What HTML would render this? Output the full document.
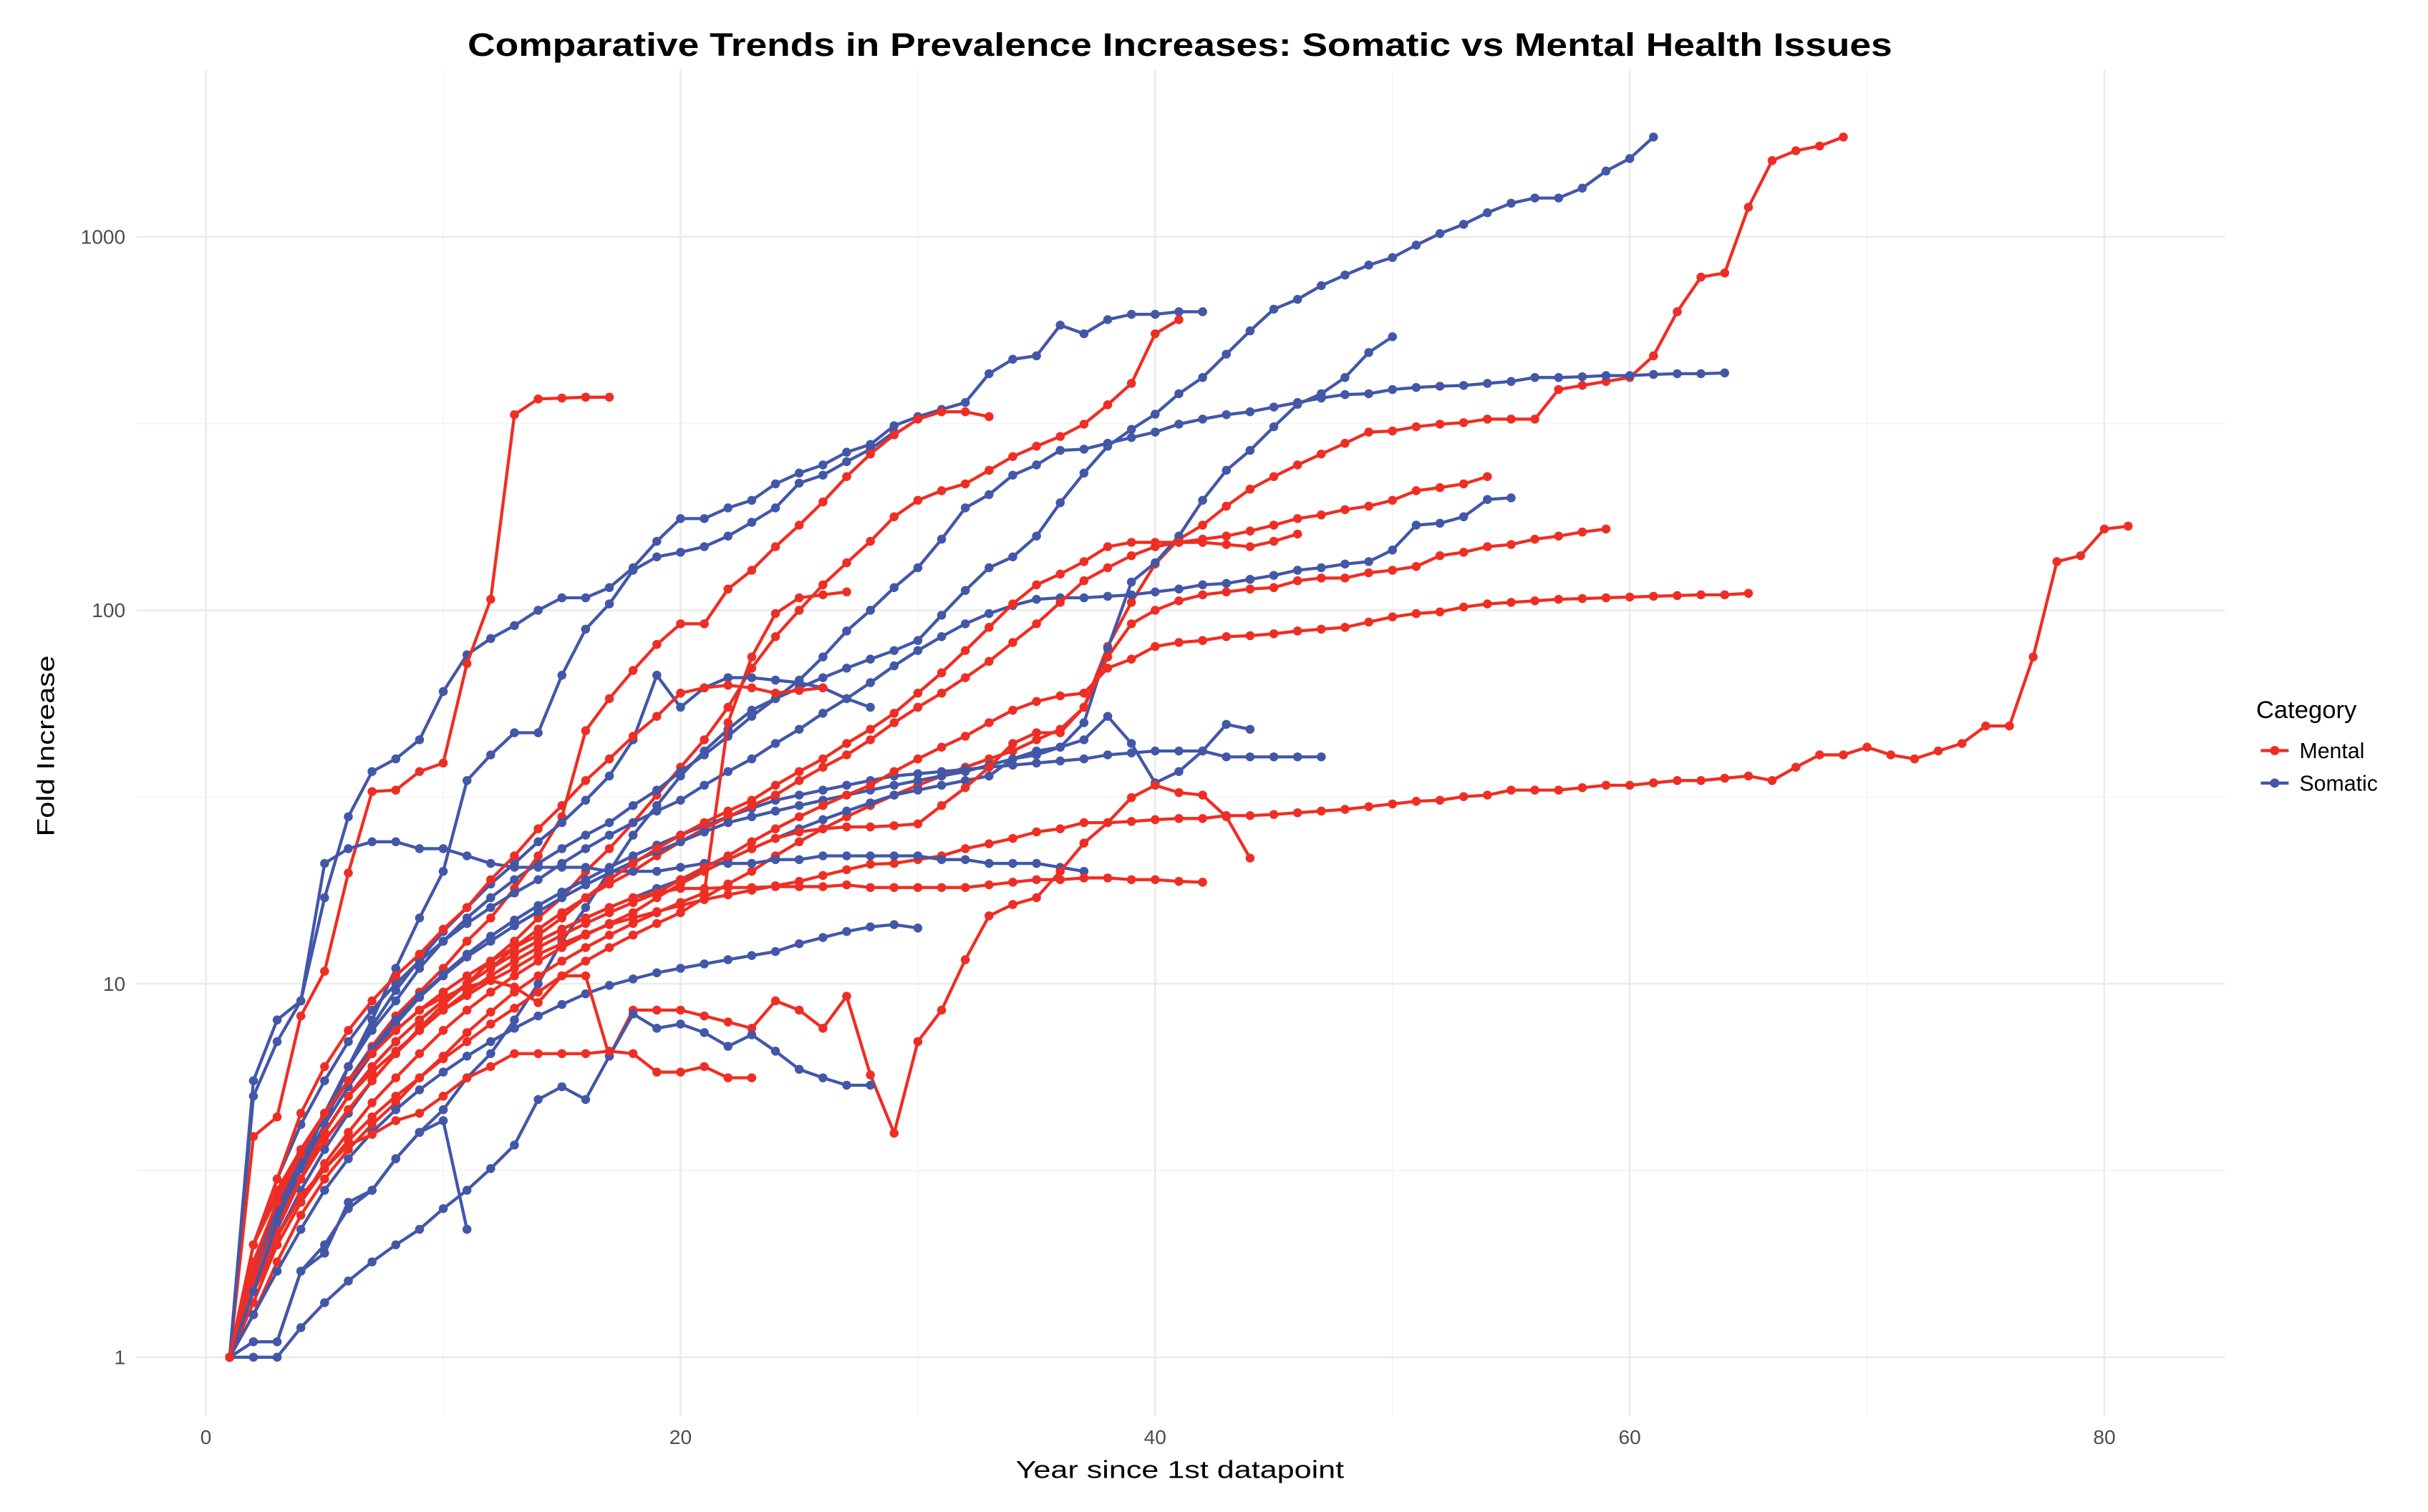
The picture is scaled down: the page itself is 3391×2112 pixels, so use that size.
<!DOCTYPE html>
<html><head><meta charset="utf-8"><title>Comparative Trends in Prevalence Increases</title>
<style>html,body{margin:0;padding:0;background:#fff}svg{display:block}</style></head>
<body>
<svg id="chart" width="3391" height="2112" viewBox="0 0 1568 977" preserveAspectRatio="none" xmlns="http://www.w3.org/2000/svg" font-family="Liberation Sans, Arial, sans-serif">
<rect x="0" y="0" width="1568" height="977" fill="#ffffff"/>
<g id="grid"></g>
<g id="series"></g>
<g id="axes"></g>
<text x="762" y="36" text-anchor="middle" font-size="21" font-weight="bold" fill="#000" textLength="920" lengthAdjust="spacingAndGlyphs">Comparative Trends in Prevalence Increases: Somatic vs Mental Health Issues</text>
<text x="762" y="955" text-anchor="middle" font-size="16" fill="#000" textLength="212" lengthAdjust="spacingAndGlyphs">Year since 1st datapoint</text>
<text transform="translate(35,482) rotate(-90)" text-anchor="middle" font-size="16" fill="#000" textLength="117" lengthAdjust="spacingAndGlyphs">Fold Increase</text>
<g>
<text x="1457" y="464" font-size="16" fill="#000">Category</text>
<g>
<line x1="1460" y1="485" x2="1478" y2="485" stroke="#EE2E24" stroke-width="2"/><circle cx="1469" cy="485" r="3" fill="#EE2E24"/>
<text x="1485" y="490" font-size="14" fill="#000">Mental</text></g>
<g>
<line x1="1460" y1="506" x2="1478" y2="506" stroke="#4257A8" stroke-width="2"/><circle cx="1469" cy="506" r="3" fill="#4257A8"/>
<text x="1485" y="511" font-size="14" fill="#000">Somatic</text></g>
</g>
</svg>
<script>
// ---- data (each series starts at year 1) ----
const mental1 = [1,3.9,4.4,8.2,10.8,19.8,32.7,33,37,39,72,107,334,368,370,372,372];
const mental2 = [1,1.4,2,2.6,3.2,3.8,4.4,5,5.6,6.3,7,7.8,8.6,9.5,10.5,11.5,12.5,13.5,14.5,15.5,17,18.5,20,22,24,26,28,30,32,34,36,38,40,42,45,48,55,80,105,133,155,169,190,211,228,245,262,280,300,302,310,315,318,325,325,325,390,400,410,420,480,630,780,800,1200,1600,1700,1750,1850];
const mental3 = [1,1.6,2.3,3,3.8,4.6,5.5,6.5,7.6,8.8,10,11.5,13,15,17,20,23,27,32,38,45,55,70,85,100,117,134,153,178,197,209,218,237,258,275,292,315,355,405,550,600];
const mental4 = [1,2,2.8,3.6,4.5,5.5,6.8,8.2,9.5,11,13,15,18,22,28,47.6,58,69,81,92,92,114,128,148,169,195,228,262,295,325,340,340,330];
const mental5 = [1,1.3,1.8,2.4,3,3.6,4.2,4.8,5.6,6.4,7.4,8.4,9.5,10.5,11.5,12.5,13.5,14.5,15.5,16.5,17.5,50,75,98,108,110,112];
const mental6 = [1,1.7,2.4,3.2,4,5,6,7,8,9,10,11,12.5,14,15.5,17,18.5,20,22,24,26,28,30,32,35,38,41,45,50,55,60,66,73,82,92,105,120,130,140,148,152,155,158,163,169,176,180,186,190,197,209,213,218,228];
const mental7 = [1,1.5,2,2.6,3.3,4,4.8,5.6,6.5,7.5,8.5,9.5,10.5,11.5,12.5,13.5,14.5,15.5,17,18.5,20,21.5,23,24.5,25.5,26,26.3,26.3,26.5,26.8,30,33.5,38,44,47,47,55,75,92,100,106,110,112,114,115,120,122,122,126,128,131,140,143,148,150,155,158,162,165];
const mental8 = [1,1.6,2.3,3,3.8,4.6,5.5,6.5,7.5,8.5,9.5,10.5,11.5,12.5,13.5,14.5,15.5,16.5,17.5,19,20.5,22,24,26,28,30,32,34,37,40,43,46,50,54,57,59,60,70,74,80,82,83,85,85.5,86.5,88,89,90,93,96,98,99,102,104,105,106,107,107.5,108,108.5,109,109.5,110,110,111];
const mental9 = [1,1.8,2.5,3.2,4,5,5.8,6.6,7.5,8.5,9.3,10.2,11,12,12.8,13.6,14.4,15,15.6,16.2,16.8,17.3,17.8,18.3,18.8,19.5,20.2,20.9,21,21.5,22,23,23.7,24.5,25.5,26,27,27,27.2,27.5,27.7,27.7,28.2,28.2,28.4,28.7,29,29.3,29.8,30.3,30.8,31,31.7,32,33,33,33,33.5,34,34,34.5,35,35,35.5,36,35,38,41,41,43,41,40,42,44,49,49,75,135,140,165,168];
const mental10 = [1,2,2.7,3.5,4.5,5.5,6.5,7.5,8.5,9.2,9.8,10.2,9.8,8.9,10.5,10.5,6.4,8.5,8.5,8.5,8.2,7.9,7.6,9,8.5,7.6,9.26,5.7,3.98,7,8.5,11.6,15.2,16.3,17,20,23.8,27,31.5,34,32.5,32,28,21.7];
const mental11 = [1,1.5,2.1,2.7,3.2,3.7,3.95,4.3,4.5,5,5.6,6,6.5,6.5,6.5,6.5,6.6,6.5,5.8,5.8,6,5.6,5.6];
const mental12 = [1,1.6,2.2,3,4,5,6,7,8,9,10,11,12,13,14,15,16,17,17.5,18,18,18.1,18.1,18.2,18.2,18.2,18.4,18.1,18.1,18.1,18.1,18.1,18.4,18.7,19,19,19.2,19.2,19,19,18.8,18.7];
const mental13 = [1,1.8,2.6,3.5,4.5,5.5,6.5,7.5,8.5,9.5,10.5,11.5,12.5,13.5,15,17,19,21,23,25,27,29,31,34,37,40,44,48,53,60,68,78,90,104,117,125,135,148,152,152,152,152,150,148,153,160];
const mental14 = [1,2,3,4.5,6,7.5,9,10.5,12,14,16,19,22,26,30,35,40,46,52,60,62,63,62,60,61,62];
const somatic1 = [1,1.1,1.1,1.7,2,2.5,2.8,3.4,4,4.6,5.6,6.5,8,10,13,16,20,25,30,36,42,48,54,58,62,66,70,74,78,83,97,113,130,139,158,194,233,275,305,335,380,420,485,560,640,680,740,790,840,880,950,1020,1080,1160,1230,1270,1270,1350,1500,1620,1850];
const somatic2 = [1,5,7,9,17,28,37,40,45,60.6,76,84,91,100,108,108,115,130,153,176,176,188,197,218,233,245,265,278,312,330,345,360,430,470,480,580,550,600,620,620,630,630];
const somatic3 = [1,1.5,2.2,3,4.2,6,8,11,15,20,35,41,47,47,67,89,104,128,139,143,148,158,172,188,219,230,250,270,300];
const somatic4 = [1,1.5,2.1,2.8,3.6,4.5,5.5,6.5,7.6,8.8,10,11,12,13,14,15,16,17,18,19,20,21.5,23,24.5,26,27.5,29,30.5,32,33,34,35,36,40,42,43,50,79,119,134,158,197,237,268,310,356,380,420,490,540];
const somatic5 = [1,1.5,2.2,3.2,4.5,6,7.5,9,11,13,15,17,19,21,23,25,27,30,33,37,41,46,52,58,65,75,88,100,115,130,155,188,204,230,245,268,270,280,290,300,315,325,334,340,350,360,370,378,380,390,395,398,400,405,410,420,420,422,425,425,428,430,430,432];
const somatic6 = [1,2,3,4.2,5.5,7,8.5,10,11.5,13,14.5,16,17.5,19,21,23,25,27,29,31,34,37,40,44,48,53,58,64,71,78,85,92,98,103,107,108,108,109,110,112,114,117,118,121,124,128,130,133,135,145,169,171,178,198,200];
const somatic7 = [1,1.7,2.5,3.4,4.4,5.5,6.7,8,9.3,10.6,12,13.4,14.8,16.2,17.6,19,20.5,22,23.5,25,26.5,28,29.5,31,32,33,34,35,36,36.5,37,37.5,38,38.5,39,39.5,40,41,41.5,42,42,42,40.5,40.5,40.5,40.5,40.5];
const somatic8 = [1,1.6,2.4,3.2,4.2,5.3,6.5,7.8,9.2,10.5,11.8,13,14.3,15.6,17,18.4,19.8,21.2,22.6,24,25.5,27,28,29,30,31,32,33,34,35,36,37,38.5,40,41,43,45,52,44,34.5,37,42,49.5,48];
const somatic9 = [1,5.5,8,9,21,23,24,24,23,23,22,21,20.5,20.5,20.5,20.5,20,20,20,20.5,21,21,21,21.5,21.5,22,22,22,22,22,21.5,21.5,21,21,21,20.5,20];
const somatic10 = [1,1.3,1.7,2.2,2.8,3.4,4,4.6,5.2,5.8,6.4,7,7.6,8.2,8.8,9.4,9.9,10.3,10.7,11,11.3,11.6,11.9,12.2,12.8,13.3,13.8,14.2,14.4,14.1];
const somatic11 = [1,1,1,1.2,1.4,1.6,1.8,2,2.2,2.5,2.8,3.2,3.7,4.9,5.3,4.9,6.4,8.3,7.6,7.8,7.4,6.8,7.3,6.6,5.9,5.6,5.35,5.35];
const somatic12 = [1,1.1,1.1,1.7,1.9,2.6,2.8,3.4,4.0,4.3,2.2];
const somatic13 = [1,1.5,2.3,3.3,4.5,6,7.7,9.6,11.6,13.8,16,18.5,21,24,27,31,36,45,67,55,62,66,66,65,64,62,58,55];

const seriesList = [
  ['somatic1','Somatic',somatic1],['mental9','Mental',mental9],['somatic2','Somatic',somatic2],
  ['mental1','Mental',mental1],['somatic3','Somatic',somatic3],['mental2','Mental',mental2],
  ['somatic4','Somatic',somatic4],['mental3','Mental',mental3],['somatic5','Somatic',somatic5],
  ['mental4','Mental',mental4],['somatic6','Somatic',somatic6],['mental5','Mental',mental5],
  ['somatic7','Somatic',somatic7],['mental6','Mental',mental6],['somatic8','Somatic',somatic8],
  ['mental7','Mental',mental7],['somatic9','Somatic',somatic9],['mental8','Mental',mental8],
  ['somatic10','Somatic',somatic10],['mental10','Mental',mental10],['somatic11','Somatic',somatic11],
  ['mental11','Mental',mental11],['somatic12','Somatic',somatic12],['mental12','Mental',mental12],
  ['somatic13','Somatic',somatic13],['mental13','Mental',mental13],['mental14','Mental',mental14]
];
const xTicks = [0,20,40,60,80];
const xMinor = [10,30,50,70];
const yTicks = [1,10,100,1000];
const yTickLabels = ['1','10','100','1000'];

// ---- scales ----
const X0 = 133, XPER = 15.325, Y0 = 877, YDEC = 241.33;
function xs(v){ return X0 + v*XPER; }
function ys(v){ return Y0 - Math.log10(v)*YDEC; }
const PL = 88, PR = 1437, PT = 45, PB = 915;
const NS = 'http://www.w3.org/2000/svg';
const colors = {Mental:'#EE2E24', Somatic:'#4257A8'};

function mk(tag, parent){ const e = document.createElementNS(NS, tag); parent.appendChild(e); return e; }

const grid = document.getElementById('grid');
xMinor.forEach(v=>{ const l = mk('line',grid);
  
  
  l.setAttribute('x1',xs(v)); l.setAttribute('x2',xs(v)); l.setAttribute('y1',PT); l.setAttribute('y2',PB);
  l.setAttribute('stroke','#f4f4f4'); l.setAttribute('stroke-width','0.7'); });
[0.5,1.5,2.5].forEach(e=>{ const l = mk('line',grid);
  
  
  const y = Y0 - e*YDEC;
  l.setAttribute('x1',PL); l.setAttribute('x2',PR); l.setAttribute('y1',y); l.setAttribute('y2',y);
  l.setAttribute('stroke','#f4f4f4'); l.setAttribute('stroke-width','0.7'); });
xTicks.forEach(v=>{ const l = mk('line',grid);
  
  
  l.setAttribute('x1',xs(v)); l.setAttribute('x2',xs(v)); l.setAttribute('y1',PT); l.setAttribute('y2',PB);
  l.setAttribute('stroke','#ebebeb'); l.setAttribute('stroke-width','1.2'); });
yTicks.forEach(v=>{ const l = mk('line',grid);
  
  
  l.setAttribute('x1',PL); l.setAttribute('x2',PR); l.setAttribute('y1',ys(v)); l.setAttribute('y2',ys(v));
  l.setAttribute('stroke','#ebebeb'); l.setAttribute('stroke-width','1.2'); });

const axes = document.getElementById('axes');
xTicks.forEach(v=>{ const t = mk('text',axes);
  
  
  t.setAttribute('x',xs(v)); t.setAttribute('y',933); t.setAttribute('text-anchor','middle');
  t.setAttribute('font-size','13'); t.setAttribute('fill','#4d4d4d'); t.textContent = String(v); });
yTicks.forEach((v,i)=>{ const t = mk('text',axes);
  
  
  t.setAttribute('x',81); t.setAttribute('y',ys(v)+4.5); t.setAttribute('text-anchor','end');
  t.setAttribute('font-size','13'); t.setAttribute('fill','#4d4d4d'); t.textContent = yTickLabels[i]; });

const layer = document.getElementById('series');
seriesList.forEach(([name,cat,vals])=>{
  const g = mk('g',layer);
  
  
  const c = colors[cat];
  const pts = vals.map((v,i)=>xs(i+1).toFixed(2)+','+ys(v).toFixed(2)).join(' ');
  const pl = mk('polyline',g);
  
  
  pl.setAttribute('points',pts); pl.setAttribute('fill','none'); pl.setAttribute('stroke',c);
  pl.setAttribute('stroke-width','2'); pl.setAttribute('stroke-linejoin','round');
  vals.forEach((v,i)=>{ const p = mk('circle',g);
    
    
    p.setAttribute('cx',xs(i+1)); p.setAttribute('cy',ys(v)); p.setAttribute('r','2.9'); p.setAttribute('fill',c); });
});
</script>
</body></html>
